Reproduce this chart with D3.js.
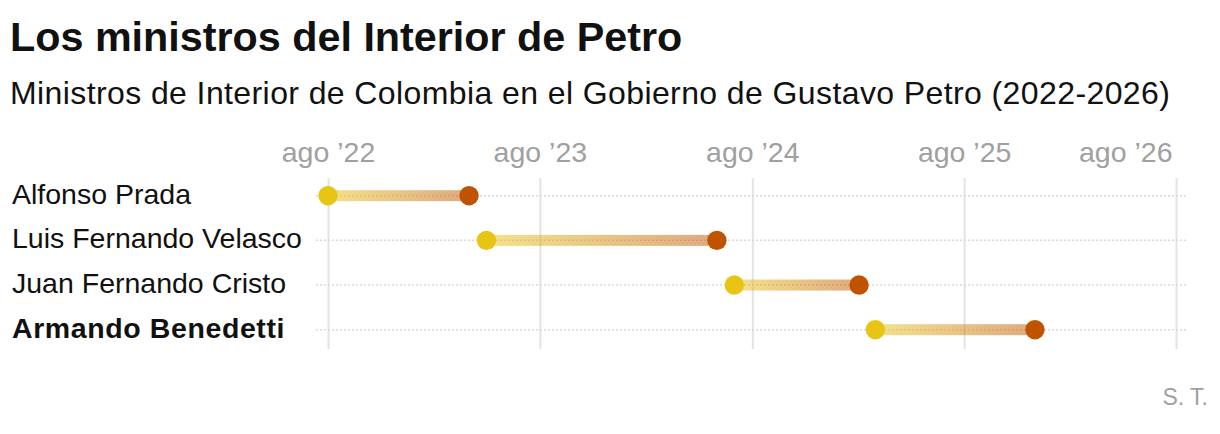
<!DOCTYPE html>
<html><head><meta charset="utf-8">
<script src="https://cdn.jsdelivr.net/npm/d3@7"></script>
<style>
body{margin:0;background:#fff;}
svg{display:block;font-family:"Liberation Sans",Arial,sans-serif;}
</style></head>
<body><svg id="c" width="1220" height="434"></svg>
<script>
const ministers = ["Alfonso Prada","Luis Fernando Velasco","Juan Fernando Cristo","Armando Benedetti"];
const startDates = ["2022-08-01","2023-05-01","2024-07-01","2025-03-01"];
const endDates   = ["2023-04-01","2024-06-01","2025-02-01","2025-12-01"];
const highlighted = ["Armando Benedetti"];
const tickDates = ["2022-08-01","2023-08-01","2024-08-01","2025-08-01","2026-08-01"];
const monthsEs = ["ene","feb","mar","abr","may","jun","jul","ago","sep","oct","nov","dic"];

const parse = d3.utcParse("%Y-%m-%d");
const svg = d3.select("#c");

svg.append("text").attr("x",10).attr("y",51).text("Los ministros del Interior de Petro")
  .attr("font-size",41.3).attr("font-weight",700).attr("fill","#111");
svg.append("text").attr("x",10).attr("y",104).text("Ministros de Interior de Colombia en el Gobierno de Gustavo Petro (2022-2026)")
  .attr("font-size",32).attr("letter-spacing",0.4).attr("fill","#111");

const x = d3.scaleUtc().domain([parse(tickDates[0]), parse(tickDates[tickDates.length-1])]).range([328,1176]);
const y = d3.scalePoint().domain(ministers).range([195.7,329.7]);

// gridlines + tick labels
const ticks = tickDates.map(parse);
const xAxis = d3.axisTop(x).tickValues(ticks)
  .tickFormat(d => monthsEs[d.getUTCMonth()] + " \u2019" + String(d.getUTCFullYear()).slice(2))
  .tickSize(-(349-178)).tickPadding(16);
const gx = svg.append("g").attr("transform","translate(0,178)").call(xAxis);
gx.select(".domain").remove();
gx.selectAll(".tick line").attr("stroke","#e3e3e3").attr("stroke-width",2);
gx.selectAll(".tick text").attr("font-size",28.5).attr("fill","#a0a0a0").attr("font-family","Liberation Sans, Arial, sans-serif");
gx.selectAll(".tick").filter((d,i,n)=>i===n.length-1).select("text")
  .attr("text-anchor","end").attr("x",-4);

// row dotted lines
svg.append("g").selectAll("line").data(ministers).join("line")
  .attr("x1",316).attr("x2",1187).attr("y1",d=>y(d)).attr("y2",d=>y(d))
  .attr("stroke","#d9d9d9").attr("stroke-width",1.5).attr("stroke-dasharray","2,2");

// labels
svg.append("g").selectAll("text").data(ministers).join("text")
  .attr("x",12).attr("y",d=>y(d)+8)
  .attr("font-size",28.5).attr("fill","#111")
  .attr("font-weight",d=>highlighted.includes(d)?700:400)
  .attr("letter-spacing",d=>highlighted.includes(d)?0.6:0)
  .text(d=>d);

// gradient
const defs = svg.append("defs");
const grad = defs.append("linearGradient").attr("id","g1").attr("x1","0%").attr("x2","100%");
grad.append("stop").attr("offset","0%").attr("stop-color","#e8c515");
grad.append("stop").attr("offset","100%").attr("stop-color","#bf5300");

const rows = ministers.map((m,i)=>({name:m, s:parse(startDates[i]), e:parse(endDates[i])}));

svg.append("g").selectAll("rect").data(rows).join("rect")
  .attr("x",d=>x(d.s)).attr("width",d=>x(d.e)-x(d.s))
  .attr("y",d=>y(d.name)-5.5).attr("height",11)
  .attr("fill","url(#g1)").attr("opacity",0.5);

svg.append("g").selectAll("circle").data(rows).join("circle")
  .attr("cx",d=>x(d.s)).attr("cy",d=>y(d.name)).attr("r",9.7).attr("fill","#e8c515");
svg.append("g").selectAll("circle").data(rows).join("circle")
  .attr("cx",d=>x(d.e)).attr("cy",d=>y(d.name)).attr("r",9.7).attr("fill","#bf5300");

svg.append("text").attr("x",1208).attr("y",405).attr("text-anchor","end")
  .attr("font-size",23).attr("fill","#a0a0a0").text("S. T.");
</script></body></html>
